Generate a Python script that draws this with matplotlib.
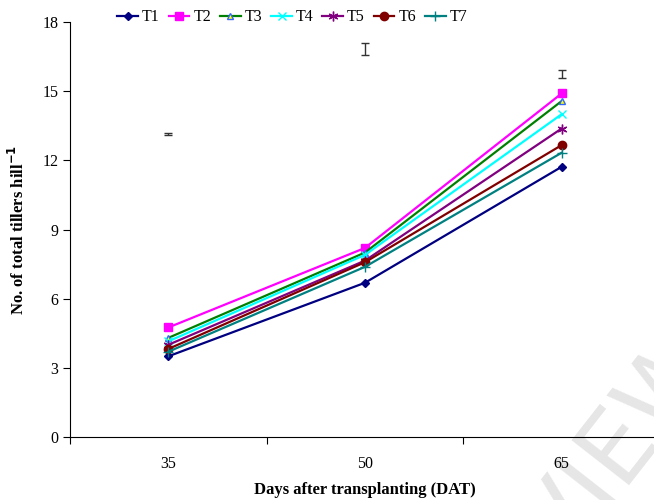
import matplotlib.pyplot as plt

days = ["35", "50", "65"]
series = ["T1", "T2", "T3", "T4", "T5", "T6", "T7"]
t1 = [3.5, 6.69, 11.72]
t2 = [4.75, 8.2, 14.9]
t3 = [4.3, 8.0, 14.57]
t4 = [4.15, 7.9, 14.0]
t5 = [4.0, 7.65, 13.38]
t6 = [3.82, 7.58, 12.66]
t7 = [3.7, 7.38, 12.33]
lsd_center = [13.14, 16.82, 15.74]
lsd_half = [0.06, 0.25, 0.18]

plt.rcParams['font.family'] = ['Liberation Serif', 'DejaVu Serif']

fig = plt.figure(figsize=(6.54, 5.0), dpi=100)
ax = fig.add_axes([70 / 654, 63 / 500, 590 / 654, 415 / 500])
ax.patch.set_alpha(0)

styles = [
    dict(color="#000080", marker="D", ms=4, mfc="#000080", mec="#000080"),
    dict(color="#FF00FF", marker="s", ms=6, mfc="#FF00FF", mec="#FF00FF"),
    dict(color="#008000", marker="^", ms=5, mfc="#FFFF00", mec="#3366FF"),
    dict(color="#00FFFF", marker="x", ms=6, mfc="#00FFFF", mec="#00FFFF"),
    dict(color="#800080", marker=(6, 2, 0), ms=7, mfc="#800080", mec="#800080"),
    dict(color="#800000", marker="o", ms=6, mfc="#800000", mec="#800000"),
    dict(color="#008080", marker="+", ms=7, mfc="#008080", mec="#008080"),
]
x = range(len(days))
for name, vals, st in zip(series, [t1, t2, t3, t4, t5, t6, t7], styles):
    ax.plot(x, vals, lw=1.6, label=name, **st)

ax.errorbar(x, lsd_center, yerr=lsd_half, fmt="none", ecolor="#333333",
            elinewidth=1, capsize=3, capthick=1)

ax.set_xlim(-0.5, 2.5)
ax.set_ylim(0, 18)
ax.set_yticks(range(0, 19, 3))
ax.set_xticks([-0.5, 0.5, 1.5, 2.5])
ax.set_xticklabels([])
ax.set_xticks(list(x), minor=True)
ax.set_xticklabels(days, minor=True)
ax.tick_params(axis="x", which="minor", length=0, pad=14, labelsize=11.5)
ax.tick_params(axis="x", which="major", direction="out", length=5)
ax.tick_params(axis="y", direction="out", length=5, labelsize=11.5)
ax.spines["top"].set_visible(False)
ax.spines["right"].set_visible(False)

ax.set_xlabel("Days after transplanting (DAT)", fontsize=12, fontweight="bold", labelpad=7)
ax.set_ylabel("No. of total tillers hill$^{\\mathbf{-1}}$", fontsize=12, fontweight="bold", labelpad=10)

fig.legend(loc="upper left", bbox_to_anchor=(103 / 654, 1.01), ncol=7, frameon=False,
           fontsize=11.5, handlelength=1.3, columnspacing=0.55, handletextpad=0.25)

fig.text(0.95, 0.1, "VIEW", fontsize=72, color="#E6E6E6", rotation=52,
         ha="center", va="center", family="DejaVu Sans", zorder=-5)

fig.savefig("out.png", dpi=100)
